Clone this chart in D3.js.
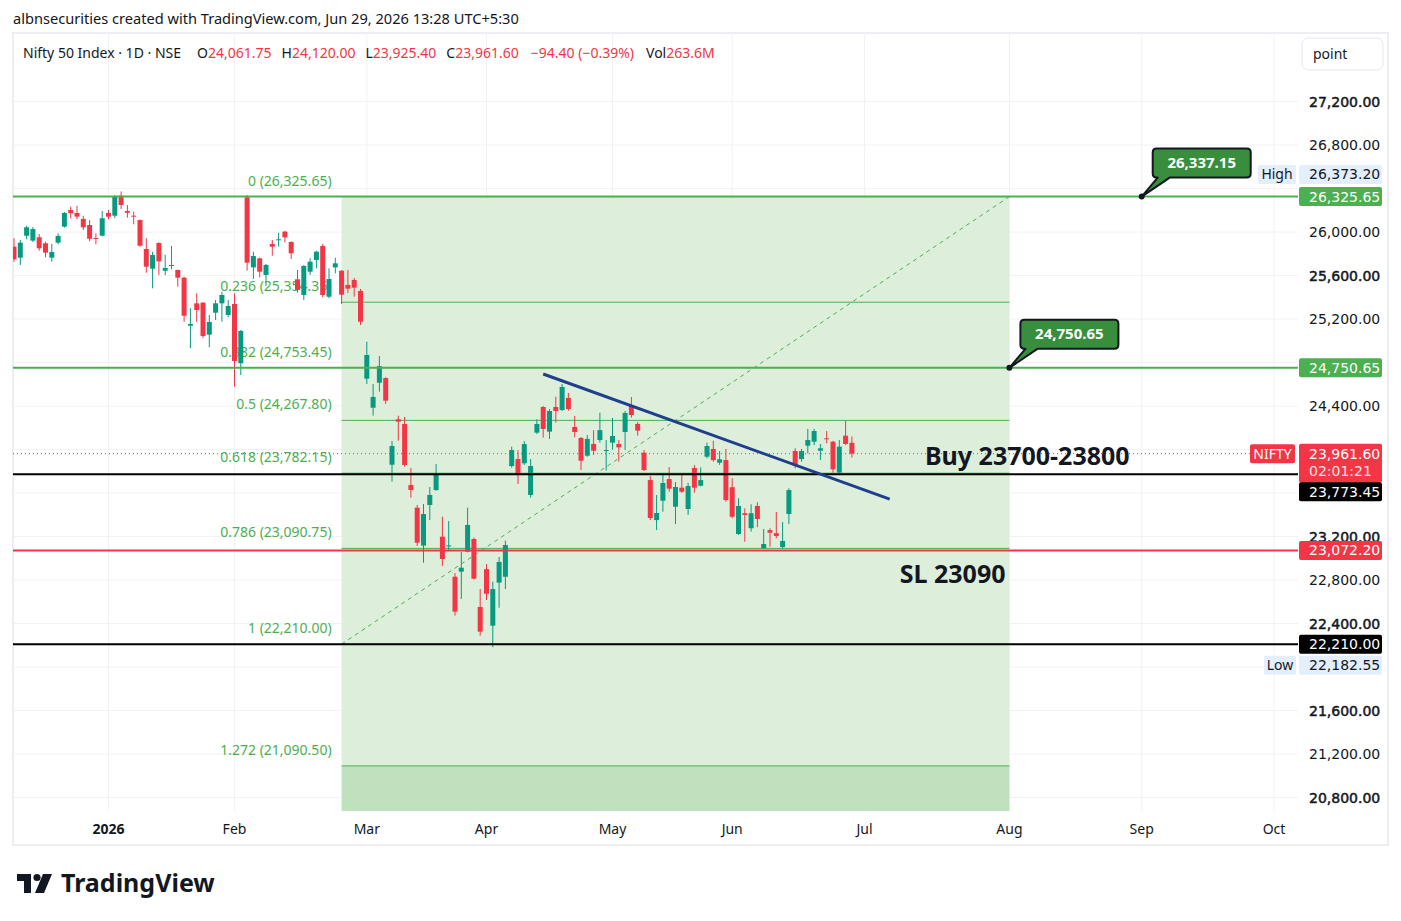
<!DOCTYPE html>
<html>
<head>
<meta charset="utf-8">
<script src="https://cdn.jsdelivr.net/npm/d3@7"></script>
<style>
  body { margin: 0; background: #fff; }
  text { font-family: "Noto Sans", Roboto, sans-serif; }
  .num { font-family: "DejaVu Sans", sans-serif; }
</style>
</head>
<body>
<div id="chart"></div>
<script>
// Daily candles, Nifty 50 (bar index 0 = first visible bar)
var opens = [25865,25764,25966,25921,25952,25896,25764,25902,26049,26202,
  26175,26120,26064,25945,25966,26175,26150,26334,26193,26150,
  26110,25844,25663,25899,25644,25697,25651,25580,25138,25344,
  25350,25056,25258,25344,25237,25338,24793,26319,25675,25758,
  25605,25890,25927,26003,25908,25565,25421,25635,25743,25871,
  25405,25675,25644,25513,25559,25458,24651,24384,24614,24657,
  23860,24278,24235,23673,23465,23116,23490,23627,23198,23112,
  22830,22877,23060,23177,22552,22900,22380,22776,22830,23848,
  23912,23873,23582,24155,24391,24164,24391,24363,24474,24207,
  24106,23943,24051,24087,23989,24063,24051,24161,24403,24235,
  23971,23719,23351,23529,23728,23474,23649,23453,23830,23667,
  23934,24005,23879,23903,23653,23223,23414,23276,23481,23094,
  23259,23230,23103,23407,23986,23912,24035,24072,23989,24103,
  24072,23787,24127,24061.75];
var highs = [25943,25927,26058,26046,25982,25911,25890,25988,26184,26233,
  26242,26150,26110,25988,26193,26202,26340,26373.2,26248,26187,
  26115,25943,25819,25905,25789,25871,25655,25589,25298,25436,
  25355,25237,25375,25451,25375,25436,25099,26340,25819,25765,
  25706,25927,25994,26012,25915,25651,25695,25758,25828,25890,
  25666,25764,25650,25651,25577,25476,24991,24602,24860,24665,
  24078,24311,24299,23830,23490,23499,23655,23866,23382,23342,
  22864,23060,23465,23190,22717,22946,22785,23012,23162,24026,
  23995,24078,23912,24278,24400,24372,24486,24602,24520,24308,
  24115,24133,24178,24339,24087,24290,24087,24354,24483,24253,
  23995,23756,23582,23774,23839,23701,23784,23692,23858,23836,
  24063,24081,23986,24005,23736,23552,23460,23496,23515,23269,
  23275,23425,23333,23643,24011,24005,24189,24189,24051,24170,
  24080,24087,24262,24120];
var lows = [25727,25697,25933,25908,25828,25767,25727,25887,26040,26126,
  26117,26018,25914,25887,25960,26117,26126,26212,26132,26071,
  25865,25626,25482,25605,25605,25657,25497,25175,24931,25175,
  25023,24940,25191,25175,25216,24578,24685,25644,25568,25583,
  25503,25782,25865,25905,25752,25442,25375,25605,25666,25400,
  25390,25620,25338,25439,25405,25145,24602,24311,24532,24419,
  23704,24081,23842,23557,23113,22959,23351,23621,22929,23067,
  22472,22626,23055,22805,22288,22616,22182.55,22545,22717,23833,
  23683,23858,23557,24143,24109,24097,24247,24354,24357,24112,
  23811,23934,23950,24063,23805,23998,23888,23995,24293,24127,
  23802,23351,23259,23428,23612,23315,23600,23398,23603,23660,
  23919,23888,23858,23520,23367,23215,23152,23244,23285,23085,
  23106,23184,23090,23315,23827,23888,23965,24041,23903,24057,
  23787,23780,24041,23925.4];
var closes = [25749,25902,26043,26027,25850,25810,25816,25964,26175,26172,
  26141,26043,25938,25936,26126,26141,26331,26248,26177,26144,
  25874,25681,25789,25730,25669,25688,25580,25230,25154,25283,
  25044,25173,25344,25421,25320,24814,25090,25718,25779,25635,
  25697,25865,25933,25951,25804,25467,25688,25727,25819,25421,
  25568,25712,25424,25479,25488,25175,24869,24483,24767,24449,
  24032,24256,23858,23627,23143,23407,23582,23774,22993,23118,
  22509,22913,23306,22812,22325,22674,22717,22966,23122,23995,
  23765,24050,23848,24235,24189,24354,24354,24575,24372,24161,
  23897,24097,23989,24178,23995,24124,24020,24336,24317,24173,
  23811,23370,23416,23692,23640,23655,23612,23664,23649,23719,
  24032,23903,23910,23535,23382,23481,23398,23414,23361,23131,
  23235,23205,23159,23627,23851,23986,24087,24170,24011,24094,
  23818,24026,24051,23961.6];

// time axis: month label and bar index of its first bar
var monthLabels = ["2026", "Feb", "Mar", "Apr", "May", "Jun", "Jul", "Aug", "Sep", "Oct"];
var monthIdx = [15, 35, 56, 75, 95, 114, 135, 158, 179, 200];

// price axis: grid every 400, labels hidden where a price tag covers them
var priceTicks = d3.range(20800, 27201, 400);
var hiddenTicks = [26400, 24800, 24000, 23600, 22000];
var boldTicks = [27200, 25600, 23200, 22400, 21600, 20800];

// fib retracement (anchored from bar 52 to bar 158), levels as labelled
var fibRatios = ["0", "0.236", "0.382", "0.5", "0.618", "0.786", "1", "1.272"];
var fibPrices = [26325.65, 25354.35, 24753.45, 24267.80, 23782.15, 23090.75, 22210.00, 21090.50];
var fibBottom = 19666.50; // 1.618 level, below the visible pane
var fibStart = 52, fibEnd = 158;

// horizontal lines drawn across the chart
var hLinePrices = [26325.65, 24750.65, 23773.45, 22210.00, 23072.20];
var hLineColors = ["#4caf50", "#4caf50", "#000000", "#000000", "#f23645"];

// trend line (bar, price)
var trendBars = [84, 139];
var trendPrices = [24694, 23544];

// callouts (bar, price)
var calloutBars = [179, 158];
var calloutTexts = ["26,337.15", "24,750.65"];
var calloutAnchorPrices = [26325.65, 24750.65];

var lastPrice = 23961.60;
var dayHigh = 26373.20, dayLow = 22182.55;

var svgWidth = 1401;
var svgHeight = 921;
var plot = { left: 13, right: 1298, top: 33, bottom: 811 };

var svg = d3.select("#chart")
  .append("svg")
  .attr("width", svgWidth)
  .attr("height", svgHeight)
  .style("background", "#fff");

var x = d3.scaleLinear().domain([0, 200]).range([14, 1274]);
var y = d3.scaleLinear().domain([20800, 27200]).range([797.5, 101.5]);
var fmt = d3.format(",.2f");

// header
svg.append("text")
  .attr("x", 13).attr("y", 24)
  .attr("font-size", 14.6).attr("fill", "#131722")
  .text("albnsecurities created with TradingView.com, Jun 29, 2026 13:28 UTC+5:30");

// frame
svg.append("rect")
  .attr("x", 13).attr("y", 33).attr("width", 1375).attr("height", 812)
  .attr("fill", "none").attr("stroke", "#eceef2").attr("stroke-width", 2);

svg.append("defs").append("clipPath").attr("id", "plotclip")
  .append("rect")
  .attr("x", plot.left).attr("y", plot.top)
  .attr("width", plot.right - plot.left).attr("height", plot.bottom - plot.top);

// grid
var grid = svg.append("g");
grid.selectAll("line.h").data(priceTicks).enter().append("line")
  .attr("x1", plot.left).attr("x2", plot.right)
  .attr("y1", d => y(d)).attr("y2", d => y(d))
  .attr("stroke", "#f0f2f5").attr("stroke-width", 1);
grid.selectAll("line.v").data(monthIdx).enter().append("line")
  .attr("x1", d => x(d)).attr("x2", d => x(d))
  .attr("y1", plot.top).attr("y2", plot.bottom)
  .attr("stroke", "#f0f2f5").attr("stroke-width", 1);

var chartGroup = svg.append("g").attr("clip-path", "url(#plotclip)");

// fib bands
var fibTop = fibPrices[0], fibLast = fibPrices[fibPrices.length - 1];
chartGroup.append("rect")
  .attr("x", x(fibStart)).attr("width", x(fibEnd) - x(fibStart))
  .attr("y", y(fibTop)).attr("height", y(fibLast) - y(fibTop))
  .attr("fill", "#ddeedb");
chartGroup.append("rect")
  .attr("x", x(fibStart)).attr("width", x(fibEnd) - x(fibStart))
  .attr("y", y(fibLast)).attr("height", y(fibBottom) - y(fibLast))
  .attr("fill", "#bfe1bd");

chartGroup.selectAll("line.fib").data(fibPrices).enter().append("line")
  .attr("x1", x(fibStart)).attr("x2", x(fibEnd))
  .attr("y1", d => y(d)).attr("y2", d => y(d))
  .attr("stroke", "#4caf50").attr("stroke-width", 1);

chartGroup.selectAll("text.fib").data(fibPrices).enter().append("text")
  .attr("x", x(fibStart) - 10)
  .attr("y", d => y(d) - 11)
  .attr("text-anchor", "end")
  .attr("font-size", 14)
  .attr("fill", "#4caf50")
  .text((d, i) => fibRatios[i] + " (" + fmt(d) + ")");

// fib trend line
chartGroup.append("line")
  .attr("x1", x(fibStart)).attr("y1", y(fibPrices[6]))
  .attr("x2", x(fibEnd)).attr("y2", y(fibTop))
  .attr("stroke", "#4caf50").attr("stroke-width", 1)
  .attr("stroke-dasharray", "4,4");

// candles
var bars = d3.range(opens.length);
var up = i => closes[i] >= opens[i];
var candleColor = i => up(i) ? "#089981" : "#f23645";

chartGroup.selectAll("line.wick").data(bars).enter().append("line")
  .attr("x1", i => x(i)).attr("x2", i => x(i))
  .attr("y1", i => y(highs[i])).attr("y2", i => y(lows[i]))
  .attr("stroke", candleColor).attr("stroke-width", 1);

chartGroup.selectAll("rect.body").data(bars).enter().append("rect")
  .attr("x", i => x(i) - 2.5)
  .attr("width", 5)
  .attr("y", i => y(Math.max(opens[i], closes[i])))
  .attr("height", i => Math.max(1, Math.abs(y(opens[i]) - y(closes[i]))))
  .attr("fill", candleColor);

// horizontal lines
chartGroup.selectAll("line.hl").data(hLinePrices).enter().append("line")
  .attr("x1", plot.left).attr("x2", plot.right)
  .attr("y1", d => y(d)).attr("y2", d => y(d))
  .attr("stroke", (d, i) => hLineColors[i]).attr("stroke-width", 2);

// current price dotted line
chartGroup.append("line")
  .attr("x1", plot.left).attr("x2", 1250)
  .attr("y1", y(lastPrice)).attr("y2", y(lastPrice))
  .attr("stroke", "#f23645").attr("stroke-width", 1)
  .attr("stroke-dasharray", "1,3");

// trend line
chartGroup.append("line")
  .attr("x1", x(trendBars[0])).attr("y1", y(trendPrices[0]))
  .attr("x2", x(trendBars[1])).attr("y2", y(trendPrices[1]))
  .attr("stroke", "#1f3f8c").attr("stroke-width", 3);

// text notes
chartGroup.append("text")
  .attr("x", x(144.6)).attr("y", y(23860))
  .attr("font-size", 25).attr("font-weight", "bold").attr("fill", "#131722")
  .text("Buy 23700-23800");
chartGroup.append("text")
  .attr("x", x(140.6)).attr("y", y(22772))
  .attr("font-size", 25).attr("font-weight", "bold").attr("fill", "#131722")
  .text("SL 23090");

// callouts
calloutBars.forEach(function(b, i) {
  var ax = x(b), ay = y(calloutAnchorPrices[i]);
  var x0 = ax + 11, x1 = ax + 109, y0 = ay - 48, y1 = ay - 19, r = 4;
  var t1 = ax + 16, t2 = ax + 28;
  var p = "M" + (x0 + r) + "," + y0 + " H" + (x1 - r) + " Q" + x1 + "," + y0 + " " + x1 + "," + (y0 + r) +
    " V" + (y1 - r) + " Q" + x1 + "," + y1 + " " + (x1 - r) + "," + y1 +
    " H" + t2 + " L" + ax + "," + ay + " L" + t1 + "," + y1 +
    " H" + (x0 + r) + " Q" + x0 + "," + y1 + " " + x0 + "," + (y1 - r) +
    " V" + (y0 + r) + " Q" + x0 + "," + y0 + " " + (x0 + r) + "," + y0 + " Z";
  svg.append("path").attr("d", p)
    .attr("fill", "#388e3c").attr("stroke", "#131722").attr("stroke-width", 2)
    .attr("stroke-linejoin", "round");
  svg.append("circle").attr("cx", ax).attr("cy", ay).attr("r", 3).attr("fill", "#131722");
  svg.append("text")
    .attr("x", (x0 + x1) / 2).attr("y", (y0 + y1) / 2 + 5)
    .attr("text-anchor", "middle")
    .attr("font-size", 15).attr("font-weight", "bold").attr("fill", "#fff")
    .text(calloutTexts[i]);
});

// legend
var last = opens.length - 1;
var legend = svg.append("text").attr("x", 23).attr("y", 58).attr("font-size", 14).attr("fill", "#131722");
legend.append("tspan").text("Nifty 50 Index · 1D · NSE");
[["O", opens[last]], ["H", highs[last]], ["L", lows[last]], ["C", closes[last]]].forEach(function(p, k) {
  legend.append("tspan").attr("dx", k === 0 ? 16 : 10).text(p[0]);
  legend.append("tspan").attr("fill", "#f23645").text(fmt(p[1]));
});
legend.append("tspan").attr("dx", 12).attr("fill", "#f23645").text("−94.40 (−0.39%)");
legend.append("tspan").attr("dx", 12).text("Vol");
legend.append("tspan").attr("fill", "#f23645").text("263.6M");

// point button
svg.append("rect").attr("x", 1302).attr("y", 38).attr("width", 81).attr("height", 32)
  .attr("rx", 6).attr("fill", "#fff").attr("stroke", "#e6e8ec");
svg.append("text").attr("x", 1313).attr("y", 59).attr("font-size", 14).attr("fill", "#131722").text("point");

// price axis tick labels
svg.append("g").selectAll("text")
  .data(priceTicks.filter(d => hiddenTicks.indexOf(d) < 0)).enter().append("text")
  .attr("class", "num")
  .attr("x", 1309).attr("y", d => y(d) + 5)
  .attr("font-size", 14)
  .attr("fill", "#131722")
  .attr("stroke", d => boldTicks.indexOf(d) >= 0 ? "#131722" : "none")
  .attr("stroke-width", 0.5)
  .text(d => fmt(d));

// price tags on the axis
function axisLabel(cy, bg, fg, txt) {
  svg.append("rect").attr("x", 1299).attr("y", cy - 9.5).attr("width", 83).attr("height", 19)
    .attr("rx", 2).attr("fill", bg);
  svg.append("text").attr("class", "num").attr("x", 1309).attr("y", cy + 5)
    .attr("font-size", 14).attr("fill", fg).text(txt);
}
function sideTag(cy, x0, w, bg, fg, txt) {
  svg.append("rect").attr("x", x0).attr("y", cy - 9.5).attr("width", w).attr("height", 19)
    .attr("rx", 2).attr("fill", bg);
  svg.append("text").attr("x", x0 + w / 2).attr("y", cy + 5).attr("text-anchor", "middle")
    .attr("font-size", 14).attr("fill", fg).text(txt);
}

sideTag(y(dayHigh) - 17, 1258, 38, "#e3effd", "#131722", "High");
axisLabel(y(dayHigh) - 17, "#e3effd", "#131722", fmt(dayHigh));
axisLabel(y(hLinePrices[0]), "#4caf50", "#fff", fmt(hLinePrices[0]));
axisLabel(y(hLinePrices[1]), "#4caf50", "#fff", fmt(hLinePrices[1]));
axisLabel(y(hLinePrices[4]), "#f23645", "#fff", fmt(hLinePrices[4]));
axisLabel(y(hLinePrices[3]), "#000", "#fff", fmt(hLinePrices[3]));
sideTag(y(dayLow) + 18, 1264, 32, "#e3effd", "#131722", "Low");
axisLabel(y(dayLow) + 18, "#e3effd", "#131722", fmt(dayLow));

// last price tag (two lines) and the black tag pushed below it
var ly = y(lastPrice);
svg.append("rect").attr("x", 1299).attr("y", ly - 10).attr("width", 83).attr("height", 39)
  .attr("rx", 2).attr("fill", "#f23645");
svg.append("text").attr("class", "num").attr("x", 1309).attr("y", ly + 5)
  .attr("font-size", 14).attr("fill", "#fff").text(fmt(lastPrice));
svg.append("text").attr("class", "num").attr("x", 1309).attr("y", ly + 22)
  .attr("font-size", 14).attr("fill", "#fde0e3").text("02:01:21");
axisLabel(ly + 38, "#000", "#fff", fmt(hLinePrices[2]));
sideTag(ly, 1250, 45, "#f23645", "#fff", "NIFTY");

// time axis
svg.append("g").selectAll("text").data(monthLabels).enter().append("text")
  .attr("x", (d, i) => x(monthIdx[i]))
  .attr("y", 834)
  .attr("text-anchor", "middle")
  .attr("font-size", 14)
  .attr("font-weight", (d, i) => i === 0 ? "bold" : "normal")
  .attr("fill", "#131722")
  .text(d => d);

// TradingView logo
var logo = svg.append("g").attr("fill", "#131722");
logo.append("path").attr("d", "M17,874 H31 V893 H24 V881 H17 Z");
logo.append("circle").attr("cx", 37).attr("cy", 877.5).attr("r", 3.6);
logo.append("path").attr("d", "M43,874 H52 L44,893 H35 Z");
svg.append("text").attr("x", 61).attr("y", 892)
  .attr("font-size", 25).attr("font-weight", "bold").attr("fill", "#131722")
  .text("TradingView");
</script>
</body>
</html>
